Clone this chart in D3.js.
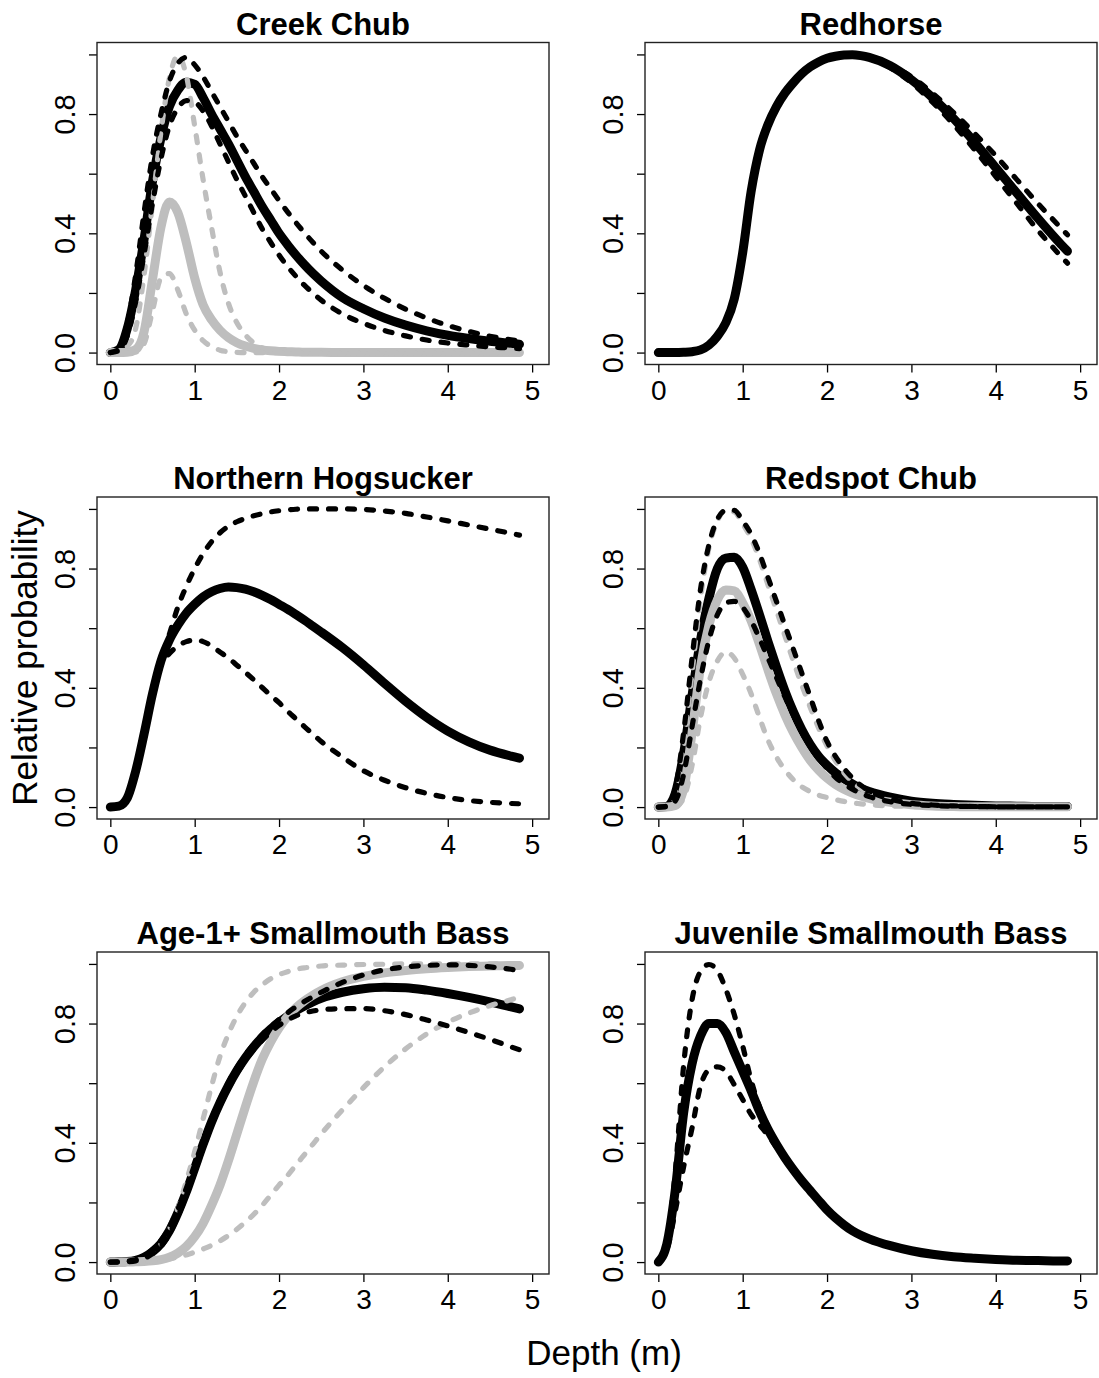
<!DOCTYPE html>
<html>
<head>
<meta charset="utf-8">
<script src="https://cdn.jsdelivr.net/npm/d3@7"></script>
<style>
  body { margin: 0; background: #fff; }
  svg { display: block; }
  text { font-family: "Liberation Sans", Arial, Helvetica, sans-serif; fill: #000; }
</style>
</head>
<body>
<svg id="fig" width="1099" height="1378"></svg>
<script>
// Depth grid (m) shared by every curve
const depth = [0, 0.1, 0.2, 0.3, 0.4, 0.5, 0.6, 0.7, 0.8, 0.9, 1.0, 1.1, 1.2, 1.3, 1.4, 1.5, 1.6, 1.7, 1.8, 1.9,
  2.0, 2.1, 2.2, 2.3, 2.4, 2.5, 2.75, 3.0, 3.25, 3.5, 3.75, 4.0, 4.25, 4.5, 4.75, 4.85];

// Creek Chub
const creekChubFit = [0, 0.01, 0.08, 0.21, 0.38, 0.575, 0.72, 0.825, 0.88, 0.907, 0.90, 0.855, 0.80, 0.75, 0.70, 0.645, 0.59, 0.54, 0.49, 0.445,
  0.40, 0.362, 0.327, 0.295, 0.266, 0.24, 0.185, 0.147, 0.116, 0.092, 0.073, 0.058, 0.047, 0.038, 0.031, 0.028];
const creekChubHi = [0, 0.012, 0.095, 0.26, 0.47, 0.66, 0.80, 0.91, 0.97, 0.99, 0.965, 0.925, 0.875, 0.825, 0.775, 0.725, 0.68, 0.635, 0.59, 0.55,
  0.51, 0.472, 0.436, 0.402, 0.37, 0.34, 0.277, 0.225, 0.182, 0.146, 0.116, 0.091, 0.071, 0.055, 0.043, 0.039];
const creekChubLo = [0, 0.006, 0.055, 0.17, 0.33, 0.50, 0.65, 0.76, 0.82, 0.845, 0.84, 0.81, 0.76, 0.70, 0.64, 0.58, 0.525, 0.47, 0.415, 0.37,
  0.327, 0.289, 0.256, 0.226, 0.2, 0.176, 0.13, 0.098, 0.074, 0.056, 0.042, 0.032, 0.025, 0.019, 0.015, 0.013];
const creekChubFit2 = [0, 0, 0.001, 0.01, 0.07, 0.245, 0.42, 0.505, 0.47, 0.37, 0.25, 0.16, 0.11, 0.075, 0.05, 0.033, 0.022, 0.014, 0.009, 0.006,
  0.004, 0.003, 0.002, 0.001, 0.001, 0.001, 0, 0, 0, 0, 0, 0, 0, 0, 0, 0];
const creekChubHi2 = [0, 0.002, 0.02, 0.08, 0.26, 0.50, 0.74, 0.92, 0.995, 0.93, 0.76, 0.58, 0.42, 0.27, 0.165, 0.10, 0.06, 0.032, 0.016, 0.008,
  0.004, 0.002, 0.001, 0, 0, 0, 0, 0, 0, 0, 0, 0, 0, 0, 0, 0];
const creekChubLo2 = [0, 0, 0, 0.002, 0.03, 0.14, 0.25, 0.265, 0.21, 0.13, 0.075, 0.04, 0.02, 0.008, 0.003, 0.001, 0, 0, 0, 0,
  0, 0, 0, 0, 0, 0, 0, 0, 0, 0, 0, 0, 0, 0, 0, 0];

// Redhorse
const redhorseFit = [0, 0, 0, 0.001, 0.003, 0.009, 0.025, 0.055, 0.10, 0.18, 0.335, 0.54, 0.68, 0.765, 0.825, 0.87, 0.905, 0.935, 0.958, 0.975,
  0.987, 0.994, 0.998, 0.999, 0.996, 0.99, 0.962, 0.915, 0.855, 0.785, 0.705, 0.62, 0.535, 0.45, 0.37, 0.34];
const redhorseHi = [0, 0, 0, 0.001, 0.003, 0.009, 0.025, 0.055, 0.10, 0.18, 0.335, 0.54, 0.68, 0.765, 0.825, 0.87, 0.905, 0.935, 0.958, 0.975,
  0.987, 0.994, 0.998, 0.999, 0.997, 0.992, 0.966, 0.925, 0.87, 0.805, 0.735, 0.66, 0.58, 0.50, 0.425, 0.395];
const redhorseLo = [0, 0, 0, 0.001, 0.003, 0.009, 0.025, 0.055, 0.10, 0.18, 0.335, 0.54, 0.68, 0.765, 0.825, 0.87, 0.905, 0.935, 0.958, 0.975,
  0.987, 0.994, 0.998, 0.998, 0.994, 0.988, 0.955, 0.905, 0.84, 0.765, 0.68, 0.59, 0.50, 0.41, 0.33, 0.30];

// Northern Hogsucker
const hogsuckerFit = [0, 0.003, 0.03, 0.12, 0.245, 0.38, 0.49, 0.56, 0.61, 0.65, 0.68, 0.705, 0.722, 0.733, 0.738, 0.736, 0.731, 0.722, 0.71, 0.696,
  0.68, 0.664, 0.646, 0.627, 0.607, 0.587, 0.535, 0.477, 0.415, 0.355, 0.301, 0.255, 0.219, 0.191, 0.171, 0.164];
const hogsuckerHi = [0, 0.003, 0.03, 0.12, 0.245, 0.38, 0.49, 0.58, 0.67, 0.74, 0.80, 0.85, 0.89, 0.92, 0.942, 0.957, 0.968, 0.977, 0.984, 0.99,
  0.994, 0.997, 0.999, 1.0, 1.0, 1.0, 1.0, 0.998, 0.993, 0.985, 0.973, 0.96, 0.946, 0.932, 0.918, 0.912];
const hogsuckerLo = [0, 0.002, 0.028, 0.115, 0.24, 0.375, 0.475, 0.515, 0.54, 0.555, 0.56, 0.555, 0.54, 0.52, 0.50, 0.476, 0.452, 0.427, 0.401, 0.375,
  0.35, 0.322, 0.296, 0.27, 0.245, 0.22, 0.168, 0.122, 0.09, 0.065, 0.046, 0.032, 0.022, 0.016, 0.012, 0.011];

// Redspot Chub
const redspotFit = [0, 0.002, 0.045, 0.18, 0.375, 0.56, 0.70, 0.80, 0.835, 0.838, 0.805, 0.73, 0.645, 0.555, 0.47, 0.39, 0.32, 0.26, 0.21, 0.17,
  0.14, 0.115, 0.095, 0.078, 0.063, 0.052, 0.033, 0.02, 0.013, 0.009, 0.006, 0.004, 0.003, 0.002, 0.002, 0.002];
const redspotHi = [0, 0.003, 0.06, 0.25, 0.50, 0.73, 0.88, 0.965, 0.995, 0.995, 0.96, 0.915, 0.85, 0.77, 0.69, 0.61, 0.53, 0.45, 0.37, 0.29,
  0.22, 0.17, 0.13, 0.098, 0.073, 0.054, 0.027, 0.013, 0.007, 0.004, 0.002, 0.001, 0.001, 0.001, 0.001, 0.001];
const redspotLo = [0, 0.001, 0.02, 0.11, 0.27, 0.43, 0.56, 0.645, 0.685, 0.69, 0.67, 0.625, 0.565, 0.50, 0.435, 0.37, 0.31, 0.255, 0.205, 0.165,
  0.13, 0.10, 0.078, 0.06, 0.046, 0.035, 0.018, 0.009, 0.005, 0.003, 0.002, 0.001, 0.001, 0.001, 0.001, 0.001];
const redspotFit2 = [0, 0, 0.005, 0.06, 0.25, 0.47, 0.61, 0.695, 0.728, 0.725, 0.685, 0.625, 0.545, 0.46, 0.38, 0.31, 0.25, 0.20, 0.157, 0.124,
  0.097, 0.076, 0.06, 0.047, 0.037, 0.029, 0.016, 0.008, 0.004, 0.002, 0.001, 0.001, 0.001, 0.001, 0.001, 0.001];
const redspotHi2 = [0, 0.002, 0.04, 0.20, 0.45, 0.70, 0.87, 0.96, 0.995, 0.99, 0.95, 0.90, 0.83, 0.745, 0.66, 0.575, 0.49, 0.41, 0.335, 0.265,
  0.205, 0.155, 0.115, 0.085, 0.062, 0.045, 0.02, 0.009, 0.004, 0.002, 0.001, 0.001, 0.001, 0.001, 0.001, 0.001];
const redspotLo2 = [0, 0, 0.002, 0.03, 0.14, 0.30, 0.42, 0.49, 0.52, 0.50, 0.445, 0.38, 0.30, 0.225, 0.168, 0.125, 0.092, 0.068, 0.052, 0.04,
  0.032, 0.025, 0.019, 0.014, 0.011, 0.008, 0.004, 0.002, 0.001, 0.001, 0, 0, 0, 0, 0, 0];

// Age-1+ Smallmouth Bass
const age1Fit = [0, 0.001, 0.002, 0.006, 0.016, 0.035, 0.062, 0.105, 0.165, 0.235, 0.315, 0.395, 0.47, 0.535, 0.592, 0.642, 0.685, 0.722, 0.754, 0.781,
  0.804, 0.825, 0.843, 0.859, 0.873, 0.885, 0.905, 0.917, 0.922, 0.92, 0.912, 0.901, 0.888, 0.873, 0.856, 0.849];
const age1Hi = [0, 0.001, 0.003, 0.008, 0.02, 0.042, 0.072, 0.117, 0.177, 0.247, 0.327, 0.407, 0.481, 0.546, 0.603, 0.652, 0.695, 0.731, 0.763, 0.79,
  0.814, 0.836, 0.856, 0.874, 0.89, 0.905, 0.938, 0.963, 0.98, 0.99, 0.995, 0.997, 0.995, 0.99, 0.982, 0.978];
const age1Lo = [0, 0, 0.001, 0.004, 0.012, 0.028, 0.053, 0.094, 0.153, 0.223, 0.303, 0.383, 0.458, 0.524, 0.581, 0.632, 0.675, 0.712, 0.744, 0.771,
  0.794, 0.812, 0.826, 0.836, 0.842, 0.846, 0.85, 0.85, 0.843, 0.83, 0.812, 0.792, 0.77, 0.747, 0.722, 0.712];
const age1Fit2 = [0, 0, 0, 0.001, 0.002, 0.004, 0.008, 0.016, 0.03, 0.052, 0.085, 0.13, 0.19, 0.258, 0.34, 0.43, 0.52, 0.605, 0.68, 0.738,
  0.785, 0.823, 0.853, 0.876, 0.895, 0.911, 0.94, 0.958, 0.97, 0.978, 0.984, 0.988, 0.991, 0.993, 0.995, 0.995];
const age1Hi2 = [0, 0, 0.001, 0.003, 0.01, 0.028, 0.06, 0.11, 0.18, 0.27, 0.37, 0.48, 0.59, 0.69, 0.765, 0.825, 0.87, 0.905, 0.93, 0.95,
  0.964, 0.974, 0.982, 0.987, 0.99, 0.993, 0.996, 0.998, 0.999, 1.0, 1.0, 1.0, 1.0, 1.0, 1.0, 1.0];
const age1Lo2 = [0, 0, 0, 0.001, 0.002, 0.003, 0.006, 0.011, 0.017, 0.024, 0.033, 0.044, 0.056, 0.071, 0.089, 0.11, 0.134, 0.16, 0.19, 0.224,
  0.258, 0.29, 0.325, 0.36, 0.395, 0.43, 0.51, 0.585, 0.655, 0.715, 0.765, 0.805, 0.835, 0.86, 0.88, 0.888];

// Juvenile Smallmouth Bass
const juvenileFit = [0, 0.06, 0.24, 0.50, 0.665, 0.758, 0.80, 0.80, 0.77, 0.705, 0.64, 0.575, 0.505, 0.445, 0.395, 0.35, 0.31, 0.273, 0.24, 0.207,
  0.175, 0.148, 0.125, 0.105, 0.09, 0.078, 0.055, 0.038, 0.026, 0.018, 0.013, 0.009, 0.006, 0.005, 0.004, 0.004];
const juvenileHi = [0, 0.07, 0.30, 0.66, 0.88, 0.975, 0.998, 0.978, 0.915, 0.83, 0.725, 0.61, 0.52, 0.455, 0.40, 0.355, 0.315, 0.278, 0.245, 0.211,
  0.179, 0.151, 0.128, 0.108, 0.092, 0.08, 0.057, 0.039, 0.027, 0.019, 0.013, 0.009, 0.006, 0.005, 0.004, 0.004];
const juvenileLo = [0, 0.04, 0.17, 0.32, 0.45, 0.59, 0.645, 0.655, 0.64, 0.595, 0.545, 0.495, 0.46, 0.425, 0.385, 0.343, 0.303, 0.268, 0.235, 0.203,
  0.171, 0.145, 0.122, 0.103, 0.088, 0.076, 0.053, 0.037, 0.025, 0.017, 0.012, 0.008, 0.006, 0.005, 0.004, 0.004];

// Axis tick values and labels
const xTicks = [0, 1, 2, 3, 4, 5];
const yTicks = [0, 0.2, 0.4, 0.6, 0.8, 1.0];
const yTickLabels = ["0.0", "", "0.4", "", "0.8", ""];

const BLACK = "#000000", GREY = "#bebebe";

// Each panel: fitted curve (solid) with its two dashed bounds, black and optionally grey
const panels = [
  { title: "Creek Chub", col: 0, row: 0,
    black: [creekChubFit, creekChubHi, creekChubLo], grey: [creekChubFit2, creekChubHi2, creekChubLo2] },
  { title: "Redhorse", col: 1, row: 0,
    black: [redhorseFit, redhorseHi, redhorseLo], grey: null },
  { title: "Northern Hogsucker", col: 0, row: 1,
    black: [hogsuckerFit, hogsuckerHi, hogsuckerLo], grey: null },
  { title: "Redspot Chub", col: 1, row: 1,
    black: [redspotFit, redspotHi, redspotLo], grey: [redspotFit2, redspotHi2, redspotLo2] },
  { title: "Age-1+ Smallmouth Bass", col: 0, row: 2,
    black: [age1Fit, age1Hi, age1Lo], grey: [age1Fit2, age1Hi2, age1Lo2] },
  { title: "Juvenile Smallmouth Bass", col: 1, row: 2,
    black: [juvenileFit, juvenileHi, juvenileLo], grey: null }
];

// Layout of the 3 x 2 grid of plot regions
const colLeft = [97, 645];
const boxW = 452;
const rowTop = [42.5, 497, 952];
const boxH = 322;
const xDomain = [-0.158, 5.2];
const yDomain = [-0.04, 1.04];

const svg = d3.select("#fig");

panels.forEach(p => {
  const x0 = colLeft[p.col], y0 = rowTop[p.row];
  const x = d3.scaleLinear().domain(xDomain).range([x0, x0 + boxW]);
  const y = d3.scaleLinear().domain(yDomain).range([y0 + boxH, y0]);
  const g = svg.append("g");

  // x axis
  const xa = g.append("g").attr("transform", `translate(0,${y0 + boxH})`)
    .call(d3.axisBottom(x).tickValues(xTicks).tickSize(8).tickFormat(d3.format("d")));
  xa.select(".domain").remove();
  xa.selectAll(".tick line").attr("stroke", "#000").attr("stroke-width", 1.3);
  xa.selectAll(".tick text").attr("y", 0).attr("dy", null)
    .attr("transform", "translate(0,35)")
    .style("font-size", "28px").attr("fill", "#000");

  // y axis
  const ya = g.append("g").attr("transform", `translate(${x0},0)`)
    .call(d3.axisLeft(y).tickValues(yTicks).tickSize(8).tickFormat((d, i) => yTickLabels[i]));
  ya.select(".domain").remove();
  ya.selectAll(".tick line").attr("stroke", "#000").attr("stroke-width", 1.3);
  ya.selectAll(".tick text").attr("x", 0).attr("dy", null)
    .attr("text-anchor", "middle")
    .attr("transform", "translate(-22,0) rotate(-90)")
    .style("font-size", "29px").attr("fill", "#000");

  // curves
  const line = d3.line()
    .x((d, i) => x(depth[i]))
    .y(d => y(d))
    .curve(d3.curveMonotoneX);
  const draw = (vals, colour, dashed) => g.append("path")
    .attr("d", line(vals))
    .attr("fill", "none")
    .attr("stroke", colour)
    .attr("stroke-width", dashed ? 5.2 : 9)
    .attr("stroke-linecap", "round")
    .attr("stroke-linejoin", "round")
    .attr("stroke-dasharray", dashed ? "7 12" : null);

  draw(p.black[0], BLACK, false);
  if (p.grey) {
    draw(p.grey[0], GREY, false);
    draw(p.grey[1], GREY, true);
    draw(p.grey[2], GREY, true);
  }
  draw(p.black[1], BLACK, true);
  draw(p.black[2], BLACK, true);

  // plot frame
  g.append("rect")
    .attr("x", x0).attr("y", y0).attr("width", boxW).attr("height", boxH)
    .attr("fill", "none").attr("stroke", "#222").attr("stroke-width", 1.4);

  // panel title
  g.append("text")
    .attr("x", x0 + boxW / 2).attr("y", y0 - 8)
    .attr("text-anchor", "middle")
    .style("font-size", "31px").style("font-weight", "bold")
    .text(p.title);
});

// shared axis titles
svg.append("text")
  .attr("transform", "translate(37,658) rotate(-90)")
  .attr("text-anchor", "middle")
  .style("font-size", "35px")
  .text("Relative probability");

svg.append("text")
  .attr("x", 604).attr("y", 1365)
  .attr("text-anchor", "middle")
  .style("font-size", "35px")
  .text("Depth (m)");
</script>
</body>
</html>
